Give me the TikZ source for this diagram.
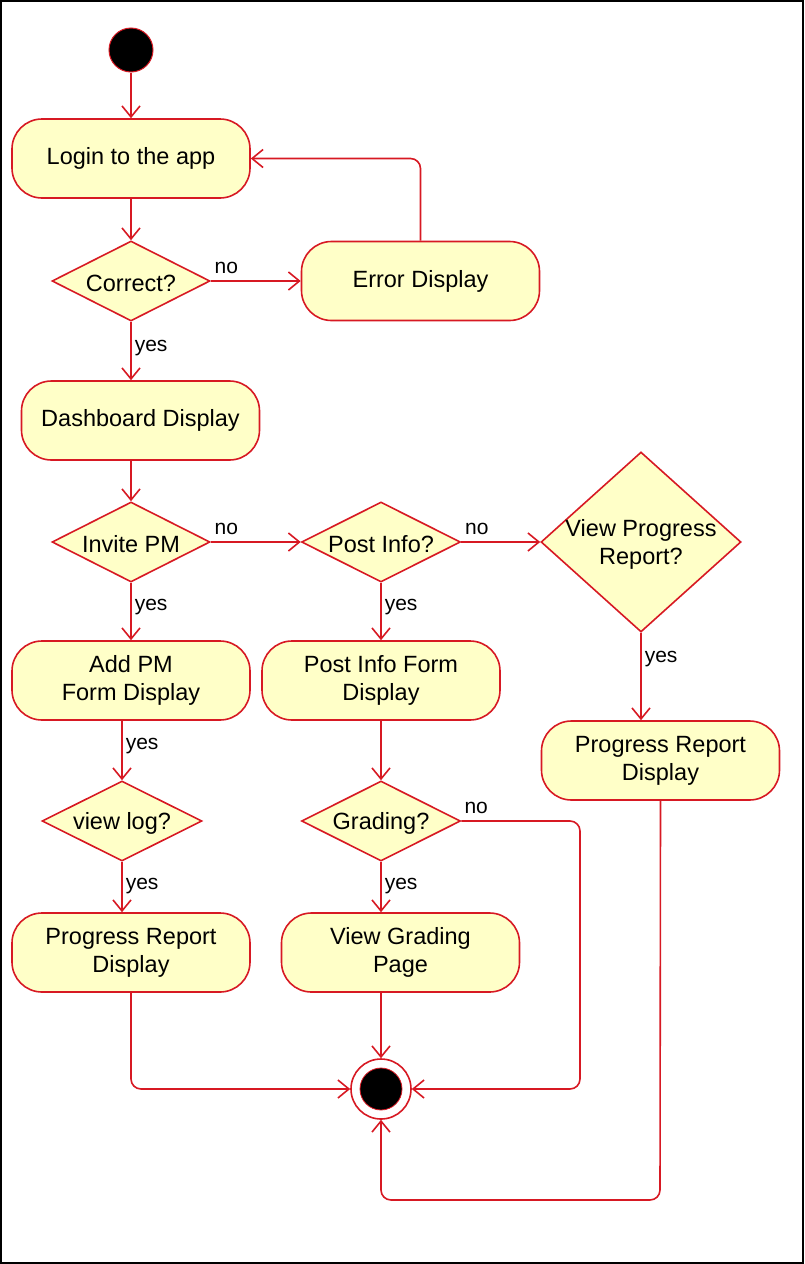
\documentclass[tikz,border=0pt]{standalone}
\usepackage{fontspec}
\setmainfont{Liberation Sans}
\usetikzlibrary{arrows.meta,shapes.geometric}
\definecolor{umlred}{RGB}{215,25,35}
\definecolor{umlfill}{RGB}{255,255,200}
\begin{document}
\begin{tikzpicture}[x=1pt,y=-1pt,
  font=\fontsize{23.5}{28}\selectfont,
  act/.style={rectangle, rounded corners=30pt, draw=umlred, fill=umlfill, line width=1.6pt,
    minimum width=238pt, minimum height=79pt, align=center, inner sep=0pt},
  dec/.style={diamond, draw=umlred, fill=umlfill, line width=1.6pt, inner sep=0pt},
  dtext/.style={align=center, inner sep=0pt, yshift=-2pt},
  arr/.style={draw=umlred, line width=1.6pt, -{Straight Barb[length=11pt,width=18pt,line width=1.6pt]}},
  lbl/.style={font=\fontsize{21}{25}\selectfont, inner sep=3pt, text=black},
  nolbl/.style={lbl, anchor=south west, yshift=4pt},
  startdot/.style={circle, fill=black, draw=umlred, line width=1pt, minimum size=44pt, inner sep=0pt},
  endring/.style={circle, fill=white, draw=umlred, line width=1.6pt, minimum size=60pt, inner sep=0pt},
  enddot/.style={circle, fill=black, draw=umlred, line width=0.8pt, minimum size=42pt, inner sep=0pt}
]
\useasboundingbox (0,0) rectangle (804,1264);
\draw[black, line width=2pt] (1,1) rectangle (803,1263);

% nodes
\node[startdot] (start) at (131,50) {};
\node[act] (login) at (131,158.5) {Login to the app};
\node[dec, minimum width=158pt, minimum height=80pt, label={[dtext]center:Correct?}] (correct) at (131,281) {};
\node[act] (error) at (420.5,281) {Error Display};
\node[act] (dash) at (140.5,420.5) {Dashboard Display};
\node[dec, minimum width=158pt, minimum height=80pt, label={[dtext]center:Invite PM}] (invite) at (131,542) {};
\node[dec, minimum width=159pt, minimum height=80pt, label={[dtext]center:Post Info?}] (post) at (381,542) {};
\node[dec, minimum width=200pt, minimum height=180pt, label={[dtext]center:{View Progress\\Report?}}] (vpr) at (641,542) {};
\node[act] (addpm) at (131,680.5) {Add PM\\Form Display};
\node[act] (pif) at (381,680.5) {Post Info Form\\Display};
\node[act] (prd2) at (660.5,760.5) {Progress Report\\Display};
\node[dec, minimum width=160pt, minimum height=80pt, label={[dtext]center:view log?}] (viewlog) at (122,821) {};
\node[dec, minimum width=159pt, minimum height=80pt, label={[dtext]center:Grading?}] (grading) at (381,821) {};
\node[act] (prd1) at (131,952.5) {Progress Report\\Display};
\node[act] (vgp) at (400.5,952.5) {View Grading\\Page};
\node[endring] (end) at (381,1089) {};
\node[enddot] (enddot) at (end) {};

\coordinate (gturn) at (580,1089);
\coordinate (rturn) at (660,1200);

% connectors
\draw[arr] (start) -- (login);
\draw[arr] (login) -- (correct);
\draw[arr] (correct) -- node[nolbl, pos=0] {no} (error);
\draw[arr, rounded corners=10pt] (error.north) |- (login.east);
\draw[arr] (correct.south) -- node[lbl, pos=0.45, anchor=west] {yes} (correct.south |- dash.north);
\draw[arr] (invite.north |- dash.south) -- (invite.north);
\draw[arr] (invite) -- node[nolbl, pos=0] {no} (post);
\draw[arr] (post) -- node[nolbl, pos=0] {no} (vpr);
\draw[arr] (invite.south) -- node[lbl, pos=0.42, anchor=west] {yes} (addpm.north);
\draw[arr] (post.south) -- node[lbl, pos=0.42, anchor=west] {yes} (pif.north);
\draw[arr] (vpr.south) -- node[lbl, pos=0.3, anchor=west] {yes} (vpr.south |- prd2.north);
\draw[arr] (viewlog.north |- addpm.south) -- node[lbl, pos=0.42, anchor=west] {yes} (viewlog.north);
\draw[arr] (pif.south) -- (grading.north);
\draw[arr] (viewlog.south) -- node[lbl, pos=0.48, anchor=west] {yes} (viewlog.south |- prd1.north);
\draw[arr] (grading.south) -- node[lbl, pos=0.48, anchor=west] {yes} (grading.south |- vgp.north);
\draw[arr, rounded corners=10pt] (grading.east) -| (gturn) -- (end.east);
\node[nolbl] at (grading.east) {no};
\draw[arr] (end.north |- vgp.south) -- (end.north);
\draw[arr, rounded corners=10pt] (prd1.south) |- (end.west);
\draw[arr, rounded corners=10pt] (prd2.south) -- (rturn) -| (end.south);
\end{tikzpicture}
\end{document}
